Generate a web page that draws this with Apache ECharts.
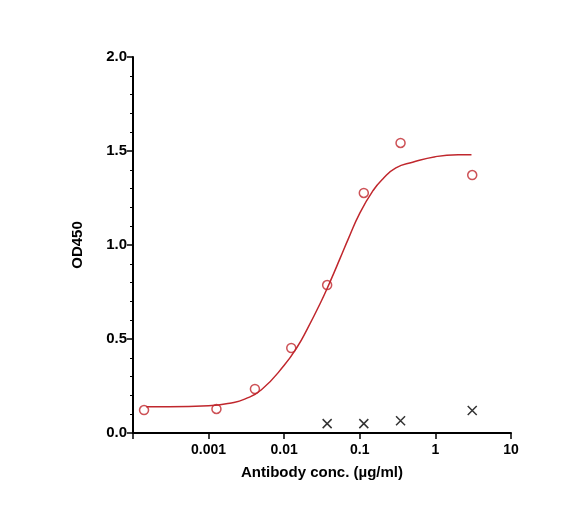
<!DOCTYPE html><html><head><meta charset="utf-8">
<script src="https://cdn.jsdelivr.net/npm/echarts@6/dist/echarts.min.js"></script>
<style>body{margin:0}#c{width:586px;height:532px}</style></head><body><div id="c"></div>
<script>
var sampleX=[0.00014,0.00127,0.0041,0.0124,0.037,0.113,0.346,3.07];
var sampleY=[0.122,0.128,0.234,0.452,0.787,1.277,1.543,1.372];
var curveX=[0.00015,0.0003,0.001,0.002,0.003,0.005,0.01,0.015,0.02,0.03,0.04,0.055,0.07,0.1,0.15,0.2,0.3,0.5,1,2,3];
var curveY=[0.14,0.14,0.145,0.16,0.18,0.23,0.36,0.46,0.55,0.69,0.80,0.93,1.03,1.17,1.29,1.35,1.41,1.44,1.47,1.48,1.48];
var ctrlX=[0.037,0.113,0.346,3.07];
var ctrlY=[0.05,0.05,0.065,0.12];
var yTicks=['0.0','0.5','1.0','1.5','2.0'];
var red='#c0272d';
var font='Arial, Liberation Sans, sans-serif';
echarts.init(document.getElementById('c')).setOption({
 animation:false,
 grid:{left:133,right:75,top:57,bottom:99},
 xAxis:{type:'log',min:0.0001,max:10,logBase:10,
  name:'Antibody conc. (µg/ml)',nameLocation:'middle',nameGap:32,
  nameTextStyle:{fontWeight:'bold',fontSize:15,color:'#000',fontFamily:font},
  axisLine:{lineStyle:{color:'#000',width:2}},axisTick:{inside:false,length:6,lineStyle:{color:'#000',width:1.5}},
  splitLine:{show:false},minorTick:{show:false},
  axisLabel:{color:'#000',fontWeight:'bold',fontSize:14,fontFamily:font,margin:10,
   formatter:function(v){if(v<0.0002)return '';return String(+v.toPrecision(3));}}},
 yAxis:{type:'value',min:0,max:2,interval:0.5,
  name:'OD450',nameLocation:'middle',nameGap:48,
  nameTextStyle:{fontWeight:'bold',fontSize:15,color:'#000',fontFamily:font},
  axisLine:{show:true,lineStyle:{color:'#000',width:2}},axisTick:{show:true,length:6,lineStyle:{color:'#000',width:1.5}},
  splitLine:{show:false},minorTick:{show:true,splitNumber:5,length:3,lineStyle:{color:'#000'}},
  axisLabel:{color:'#000',fontWeight:'bold',fontSize:15,fontFamily:font,margin:6,
   formatter:function(v){return yTicks[Math.round(v/0.5)];}}},
 series:[
  {type:'line',smooth:true,showSymbol:false,data:curveX.map((x,i)=>[x,curveY[i]]),lineStyle:{color:red,width:1.5}},
  {type:'scatter',symbol:'circle',symbolSize:9,data:sampleX.map((x,i)=>[x,sampleY[i]]),
   itemStyle:{color:'#fff',borderColor:red,borderWidth:1.5}},
  {type:'scatter',symbol:'path://M0,0L10,10M10,0L0,10',symbolSize:9,data:ctrlX.map((x,i)=>[x,ctrlY[i]]),
   itemStyle:{color:'none',borderColor:'#000',borderWidth:1.5}}
 ]});
</script></body></html>
